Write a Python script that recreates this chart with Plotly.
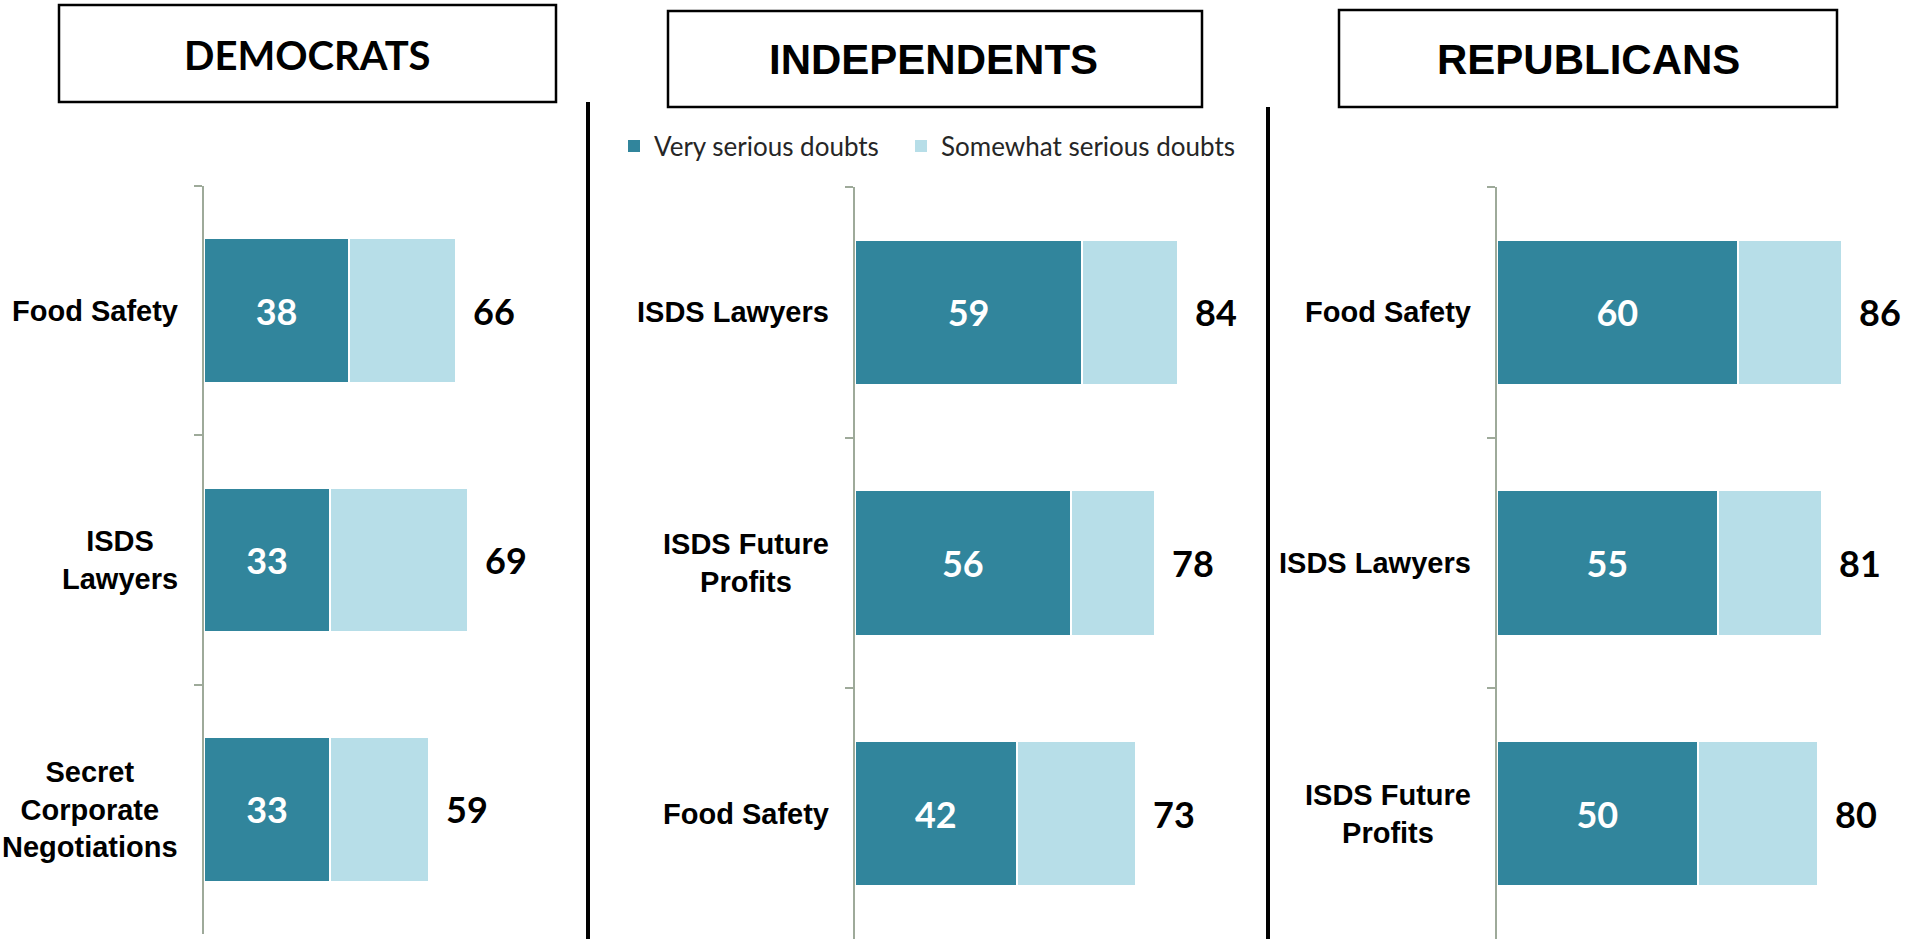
import plotly.graph_objects as go

W, H = 1909, 939

# ---------------- data ----------------
dem_categories = ["Food Safety", "ISDS<br>Lawyers", "Secret<br>Corporate<br>Negotiations"]
dem_very = [38, 33, 33]
dem_somewhat = [28, 36, 26]
dem_total = [66, 69, 59]

ind_categories = ["ISDS Lawyers", "ISDS Future<br>Profits", "Food Safety"]
ind_very = [59, 56, 42]
ind_somewhat = [25, 22, 31]
ind_total = [84, 78, 73]

rep_categories = ["Food Safety", "ISDS Lawyers", "ISDS Future<br>Profits"]
rep_very = [60, 55, 50]
rep_somewhat = [26, 26, 30]
rep_total = [86, 81, 80]

panel_titles = ["DEMOCRATS", "INDEPENDENTS", "REPUBLICANS"]
series_names = ["Very serious doubts", "Somewhat serious doubts"]

# ---------------- styling / layout (pixels) ----------------
DARK = "#31859C"
LIGHT = "#B7DEE8"
AXIS_C = "#9EAA9A"
NUM_FONT = "Lato"
LBL_FONT = "Liberation Sans"

panels = [
    dict(cats=dem_categories, very=dem_very, some=dem_somewhat, total=dem_total,
         ax=204, ppu=3.82, ytop=186, ybot=934,
         box=(59, 5, 556, 102), title_xy=(307, 55), title_font="Lato", title_size=40),
    dict(cats=ind_categories, very=ind_very, some=ind_somewhat, total=ind_total,
         ax=855, ppu=3.85, ytop=187, ybot=939,
         box=(668, 11, 1202, 107), title_xy=(933, 60), title_font=LBL_FONT, title_size=42),
    dict(cats=rep_categories, very=rep_very, some=rep_somewhat, total=rep_total,
         ax=1497, ppu=4.01, ytop=187, ybot=939,
         box=(1339, 10, 1837, 107), title_xy=(1588, 60), title_font=LBL_FONT, title_size=42),
]
XMAX = 100

fig = go.Figure()
shapes = []
annotations = []

def px_x(p):
    return p / W

def px_y(p):
    return 1 - p / H

for i, p in enumerate(panels):
    n = "" if i == 0 else str(i + 1)
    xa, ya = "x" + n, "y" + n
    fig.add_trace(go.Bar(
        y=p["cats"], x=p["very"], orientation="h", name=series_names[0],
        xaxis=xa, yaxis=ya, marker=dict(color=DARK, line=dict(color="white", width=2)),
        text=p["very"], textposition="inside", insidetextanchor="middle",
        textangle=0, constraintext="none",
        textfont=dict(family=NUM_FONT, size=36, color="white", weight="bold"),
        showlegend=False, hoverinfo="skip"))
    fig.add_trace(go.Bar(
        y=p["cats"], x=p["some"], orientation="h", name=series_names[1],
        xaxis=xa, yaxis=ya, marker=dict(color=LIGHT, line=dict(color="white", width=2)),
        showlegend=False, hoverinfo="skip"))

    x0 = p["ax"]
    x1 = x0 + XMAX * p["ppu"]
    fig.update_layout(**{
        "xaxis" + n: dict(domain=[px_x(x0), px_x(x1)], range=[0, XMAX], anchor=ya,
                          showgrid=False, zeroline=False, showticklabels=False,
                          showline=False, fixedrange=True),
        "yaxis" + n: dict(domain=[px_y(p["ybot"]), px_y(p["ytop"])], anchor=xa,
                          type="category", categoryorder="array", categoryarray=p["cats"],
                          range=[2.5, -0.5], showgrid=False, zeroline=False,
                          showticklabels=False, showline=True, linecolor=AXIS_C, linewidth=2,
                          ticks="outside", tickson="boundaries", ticklen=8,
                          tickcolor=AXIS_C, tickwidth=2, fixedrange=True),
    })

    # category labels (centered multi-line, right-anchored next to axis)
    for c in p["cats"]:
        annotations.append(dict(
            x=0, xref=xa + " domain", y=c, yref=ya, text=c, showarrow=False,
            xanchor="right", yanchor="middle", align="center", xshift=-24,
            font=dict(family=LBL_FONT, size=29, color="black", weight="bold")))
    # totals
    for c, t in zip(p["cats"], p["total"]):
        annotations.append(dict(
            x=t, xref=xa, y=c, yref=ya, text=str(t), showarrow=False,
            xanchor="left", yanchor="middle", xshift=15,
            font=dict(family=NUM_FONT, size=36, color="black", weight="bold")))

    # title box
    bx0, by0, bx1, by1 = p["box"]
    shapes.append(dict(type="rect", xref="paper", yref="paper",
                       x0=px_x(bx0), x1=px_x(bx1), y0=px_y(by1), y1=px_y(by0),
                       line=dict(color="black", width=2.5), fillcolor="rgba(0,0,0,0)"))
    tx, ty = p["title_xy"]
    annotations.append(dict(x=px_x(tx), y=px_y(ty), xref="paper", yref="paper",
                            text=panel_titles[i], showarrow=False,
                            xanchor="center", yanchor="middle",
                            font=dict(family=p["title_font"], size=p["title_size"],
                                      color="black", weight="bold")))

# legend entries (solid swatches, no white outline), one legend box each
for name, col, lg in zip(series_names, [DARK, LIGHT], ["legend", "legend2"]):
    fig.add_trace(go.Bar(y=[None], x=[None], orientation="h", name=name,
                         marker=dict(color=col, line=dict(width=0)), legend=lg,
                         showlegend=True, hoverinfo="skip"))

# separators
for sx, sy in [(588, 102), (1268, 107)]:
    shapes.append(dict(type="line", xref="paper", yref="paper",
                       x0=px_x(sx), x1=px_x(sx), y0=px_y(sy), y1=0,
                       line=dict(color="black", width=4)))

legend_style = dict(orientation="h", y=px_y(146), xanchor="left", yanchor="middle",
                    font=dict(family=NUM_FONT, size=26, color="#262626"),
                    bgcolor="rgba(0,0,0,0)")

fig.update_layout(
    width=W, height=H, autosize=False,
    margin=dict(l=0, r=0, t=0, b=0),
    paper_bgcolor="white", plot_bgcolor="white",
    barmode="stack", bargap=0.42,
    shapes=shapes, annotations=annotations,
    legend=dict(x=px_x(614), **legend_style),
    legend2=dict(x=px_x(901), **legend_style),
)

fig.write_html("out.html", config={"displayModeBar": False},
               post_script="document.body.style.margin='0';document.body.style.overflow='hidden';")
